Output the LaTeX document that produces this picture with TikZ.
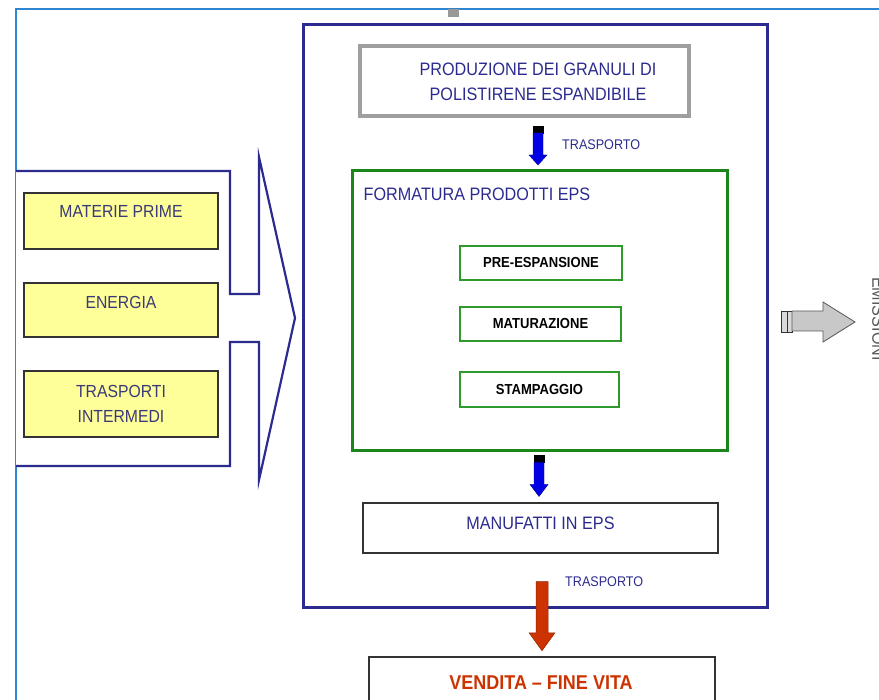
\documentclass[tikz,border=0pt]{standalone}
\usepackage{fontspec}
\setmainfont{Liberation Sans}
\newfontfamily\condfont[FakeStretch=0.9]{Liberation Sans}
\usetikzlibrary{calc}
\definecolor{navy}{HTML}{2B2B8F}
\definecolor{framebl}{HTML}{2E86D0}
\definecolor{grn}{HTML}{1A851A}
\definecolor{grnl}{HTML}{2E9A2E}
\definecolor{ylw}{HTML}{FFFF99}
\definecolor{rust}{HTML}{CC3300}
\definecolor{ltgray}{HTML}{C8C8C8}
\definecolor{txtgray}{HTML}{3A3A78}
\tikzset{
  navytext/.style={text=navy, font=\condfont\fontsize{18}{25}\selectfont, align=center, inner sep=0pt},
  smalllabel/.style={text=navy, font=\condfont\fontsize{14}{16}\selectfont, inner sep=0pt, anchor=west},
  ybox/.style={draw=black!80, line width=1.2pt, fill=ylw, minimum width=194pt, inner sep=0pt},
  ytext/.style={text=txtgray, font=\condfont\fontsize{17.5}{25}\selectfont, align=center, inner sep=0pt},
  phase/.style={draw=grnl, line width=1.4pt, inner sep=0pt, font=\condfont\bfseries\fontsize{14.5}{16}\selectfont},
  bluearrow/.style={fill=blue!90!black, draw=blue!60!black, line width=0.4pt},
  tab/.style={fill=black, draw=black}
}
\newcommand\downarrowshape[5]{% top coordinate, tab height, shaft length, head length, colour style
  \fill[tab] ($(#1)+(-5,0)$) rectangle ($(#1)+(5,#2)$);
  \filldraw[#5] ($(#1)+(-5,#2)$) -- ($(#1)+(-5,#2+#3)$) -- ($(#1)+(-9,#2+#3)$)
    -- ($(#1)+(0,#2+#3+#4)$) -- ($(#1)+(9,#2+#3)$) -- ($(#1)+(5,#2+#3)$)
    -- ($(#1)+(5,#2)$) -- cycle;
}
\begin{document}
\begin{tikzpicture}[x=1pt,y=-1pt]
\useasboundingbox (0,0) rectangle (879,700);
\clip (0,0) rectangle (879,700);

% outer page frame and its top marker
\draw[framebl, line width=1.6pt] (16,720) -- (16,9) -- (900,9);
\fill[gray!80] (448,9) rectangle (459,17);

% main production block
\node[draw=navy, line width=3pt, minimum width=464pt, minimum height=582pt] (main) at (535,316) {};

% granule production
\node[draw=gray!75, line width=4pt, minimum width=329pt, minimum height=70pt] (prod) at (524.5,81) {};
\node[navytext] (prodtxt) at (538,82) {PRODUZIONE DEI GRANULI DI\\POLISTIRENE ESPANDIBILE};

% forming of EPS products
\node[draw=grn, line width=3pt, minimum width=375pt, minimum height=280pt] (form) at (539.5,311) {};
\node[navytext, anchor=west] (formtxt) at ([xshift=13pt,yshift=-25pt]form.north west) {FORMATURA PRODOTTI EPS};

\node[phase, minimum width=162pt, minimum height=34pt] (pre) at (541,263) {PRE-ESPANSIONE};
\node[phase, minimum width=161pt, minimum height=34pt] (mat) at (540.5,324) {MATURAZIONE};
\node[phase, minimum width=159pt, minimum height=35pt] (sta) at (539.5,389.5) {STAMPAGGIO};

% finished goods
\node[draw=black!80, line width=1.5pt, minimum width=355pt, minimum height=50pt] (manu) at (540.5,528) {};
\node[navytext] (manutxt) at ([yshift=5pt]manu.center) {MANUFATTI IN EPS};

% sale and end of life
\node[draw=black!80, line width=1.5pt, minimum width=346pt, minimum height=80pt] (vend) at (542,697) {};
\node[text=rust, font=\condfont\bfseries\fontsize{20}{22}\selectfont, inner sep=0pt] (vendtxt) at (541,683) {VENDITA – FINE VITA};

% transport arrows
\coordinate (a1) at (prod.south -| 538,0);
\downarrowshape{$(a1)+(0,8)$}{7}{22}{10}{bluearrow}
\node[smalllabel] (t1) at (562,145) {TRASPORTO};

\coordinate (a2) at (form.south -| 539,0);
\downarrowshape{$(a2)+(0,3)$}{7}{22}{12}{bluearrow}

\coordinate (a3) at (manu.south -| 542,0);
\filldraw[fill=rust, draw=rust!70!black, line width=0.5pt]
  ($(a3)+(-6,28)$) -- ($(a3)+(-6,79)$) -- ($(a3)+(-13,79)$) -- ($(a3)+(0,97)$)
  -- ($(a3)+(13,79)$) -- ($(a3)+(6,79)$) -- ($(a3)+(6,28)$) -- cycle;
\node[smalllabel] (t2) at (565,582) {TRASPORTO};

% inputs block arrow
\draw[navy, line width=2.2pt, fill=white]
  (16,171) -- (230,171) -- (230,294) -- (259,294) -- (259,157) -- (295,318)
  -- (259,480) -- (259,342) -- (230,342) -- (230,466) -- (16,466);
\node[ybox, minimum height=56pt] (mp) at (121,221) {};
\node[ytext] at ([yshift=-19pt]mp.north) {MATERIE PRIME};
\node[ybox, minimum height=54pt] (en) at (121,310) {};
\node[ytext] at ([yshift=-20pt]en.north) {ENERGIA};
\node[ybox, minimum height=66pt] (tr) at (121,404) {};
\node[ytext] at ([yshift=-33pt]tr.north) {TRASPORTI\\INTERMEDI};

% outputs arrow
\draw[black!80, fill=ltgray!70, line width=0.8pt] (781,311) rectangle (787,332);
\draw[black!80, fill=ltgray!70, line width=0.8pt] (787,311) rectangle (792,332);
\filldraw[fill=ltgray, draw=gray!70!black, line width=0.8pt]
  (792,311) -- (823,311) -- (823,302) -- (855,322) -- (823,342) -- (823,331) -- (792,331) -- cycle;
\node[rotate=-90, text=gray!70!black, font=\condfont\fontsize{18}{20}\selectfont, anchor=south, inner sep=0pt] (emis) at (872,319) {EMISSIONI};
\end{tikzpicture}
\end{document}
